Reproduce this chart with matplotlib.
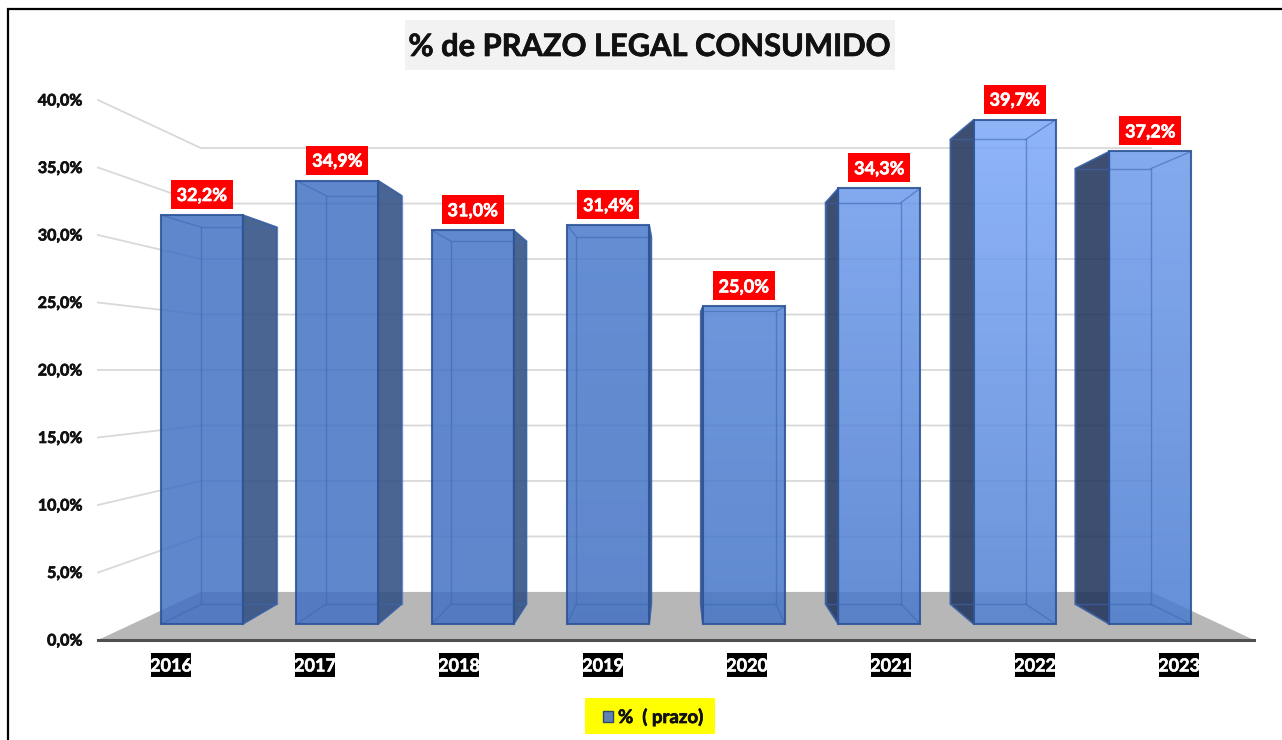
import numpy as np
import matplotlib
matplotlib.use("Agg")
import matplotlib.pyplot as plt
import matplotlib.patheffects as pe
from matplotlib.patches import Polygon, Rectangle

plt.rcParams["font.family"] = ["Lato", "DejaVu Sans"]

years = ["2016", "2017", "2018", "2019", "2020", "2021", "2022", "2023"]
prazo = [32.2, 34.9, 31.0, 31.4, 25.0, 34.3, 39.7, 37.2]
labels = ["32,2%", "34,9%", "31,0%", "31,4%", "25,0%", "34,3%", "39,7%", "37,2%"]
y_ticks = [0, 5, 10, 15, 20, 25, 30, 35, 40]
y_labels = ["0,0%", "5,0%", "10,0%", "15,0%", "20,0%", "25,0%", "30,0%", "35,0%", "40,0%"]
# gradient of each bar, top and bottom colour as seen on white
top_cols = ["#5f87cc", "#5f87cc", "#6189d0", "#648dd3", "#6d96dc", "#82a9ee", "#8fb4f8", "#84aaee"]
bot_cols = ["#5f87cc", "#5f87cc", "#5f87cc", "#5f87cc", "#6089cf", "#648dd4", "#6a94d8", "#6590d8"]

# perspective of the excel 3d chart
cx, cy = 676, 370      # vanishing point, sits on the 20% level
px_per_pct = 13.5
slot = 144
half_bar = 43.5
s_wall = 0.822         # scale of back wall
s_front = 0.941        # scale of bar front
s_back = 0.867         # scale of bar back
heavy = [pe.withStroke(linewidth=0.5, foreground="#111111")]
heavy_w = [pe.withStroke(linewidth=0.4, foreground="white")]


def project(x, v, s):
    return cx + x * s, cy - (v - 20) * px_per_pct * s


fig = plt.figure(figsize=(12.82, 7.40), dpi=100)
ax = fig.add_axes([0, 0, 1, 1])
ax.set_xlim(0, 1282)
ax.set_ylim(740, 0)
ax.axis("off")

# frame, only top and left are in the picture
ax.plot([7.5, 7.5, 1282], [740, 8.5, 8.5], color="black", lw=1.6, solid_joinstyle="miter")

# floor
half_w = 578
floor = [project(-half_w, 0, 1), project(half_w, 0, 1), project(half_w, 0, s_wall), project(-half_w, 0, s_wall)]
ax.add_patch(Polygon(floor, fc="#b7b7b7", ec="none", zorder=1))

# gridlines, back wall and left wall
for t, lab in zip(y_ticks, y_labels):
    a = project(-half_w, t, 1)
    b = project(-half_w, t, s_wall)
    c = project(half_w, t, s_wall)
    if t > 0:
        ax.plot([a[0], b[0], c[0]], [a[1], b[1], c[1]], color="#d9d9d9", lw=1.3, zorder=2)
    ax.text(a[0] - 15.5, a[1] + 1.5, lab, ha="right", va="center", fontsize=11.5, fontweight="bold",
            color="#111111", path_effects=heavy)

ax.plot([cx - half_w, cx + half_w], [project(0, 0, 1)[1]] * 2, color="#505050", lw=2.2, zorder=3)

# bars
edge = "#2f5597"
inner = "#3f68b0"
for i, (val, lab, yr) in enumerate(zip(prazo, labels, years)):
    xc = (i - 3.5) * slot
    x0, x1 = xc - half_bar, xc + half_bar
    f = [project(x0, 0, s_front), project(x1, 0, s_front), project(x1, val, s_front), project(x0, val, s_front)]
    b = [project(x0, 0, s_back), project(x1, 0, s_back), project(x1, val, s_back), project(x0, val, s_back)]

    # front face in the gradient colour
    xs = [p[0] for p in f + b]
    ys = [p[1] for p in f + b]
    ext = (min(xs), max(xs), max(ys), min(ys))
    alpha = 0.85
    t_rgb = (np.array(matplotlib.colors.to_rgb(top_cols[i])) - (1 - alpha)) / alpha
    b_rgb = (np.array(matplotlib.colors.to_rgb(bot_cols[i])) - (1 - alpha)) / alpha
    ramp = np.linspace(0, 1, 64)[:, None, None]
    img = np.clip(t_rgb[None, None, :] * (1 - ramp) + b_rgb[None, None, :] * ramp, 0, 1)
    im = ax.imshow(img, extent=ext, aspect="auto", alpha=alpha, zorder=4, interpolation="bilinear")
    im.set_clip_path(Polygon(f, transform=ax.transData))

    # dark side wall, on the side that looks to the centre
    if xc < 0:
        side = [f[2], b[2], b[1], f[1]]
        side_col = "#315082"
    else:
        side = [f[3], b[3], b[0], f[0]]
        side_col = "#22355d"
    ax.add_patch(Polygon(side, fc=side_col, ec="none", alpha=0.88, zorder=4))

    # edges of the box
    ax.add_patch(Polygon(f, fill=False, ec=edge, lw=1.5, alpha=0.9, zorder=6))
    ax.add_patch(Polygon(side, fill=False, ec=edge, lw=1.2, alpha=0.8, zorder=5))
    ax.add_patch(Polygon(b, fill=False, ec=inner, lw=1.0, alpha=0.6, zorder=5))
    for j in range(4):
        ax.plot([f[j][0], b[j][0]], [f[j][1], b[j][1]], color=inner, lw=1.0, alpha=0.6, zorder=5)

    # value label
    tx = cx + xc * s_front
    ty = f[3][1] - 20.5
    ax.add_patch(Rectangle((tx - 31, ty - 14.5), 62, 29, fc="#ff0000", ec="none", zorder=7))
    ax.text(tx, ty + 1, lab, ha="center", va="center", color="white", fontsize=13, fontweight="bold",
            zorder=8, path_effects=heavy_w)

    # category label
    lx = cx + xc - 1
    ax.add_patch(Rectangle((lx - 20, 653), 40, 24, fc="black", ec="none", zorder=7))
    ax.text(lx, 666, yr, ha="center", va="center", color="white", fontsize=13, fontweight="bold",
            zorder=8, path_effects=heavy_w)

# title
ax.add_patch(Rectangle((405, 20), 490, 50, fc="#f2f2f2", ec="none"))
ax.text(650, 47, "% de PRAZO LEGAL CONSUMIDO", ha="center", va="center", fontsize=22.2, fontweight="bold",
        color="#111111", path_effects=heavy)

# legend
ax.add_patch(Rectangle((585, 698), 130, 36, fc="#ffff00", ec="none"))
ax.add_patch(Rectangle((603, 711), 10, 11, fc="#5f82b5", ec="#2d4a6e", lw=1))
ax.text(618, 717, "%  ( prazo)", ha="left", va="center", fontsize=13.4, fontweight="bold",
        color="#111111", path_effects=heavy)

fig.savefig("out.png", dpi=100)
